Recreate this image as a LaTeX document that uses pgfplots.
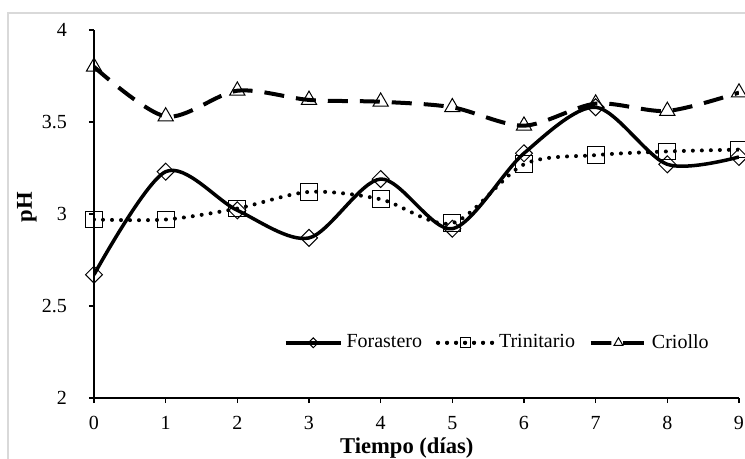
\documentclass[border=0pt]{standalone}
\usepackage{pgfplots}
\pgfplotsset{compat=1.18}
\usepackage{fontspec}
\setmainfont{Liberation Serif}
\begin{document}
\begin{tikzpicture}
\useasboundingbox (-47bp,-30.5bp) rectangle (325.5bp,199bp);
\fill[white] (-47bp,-30.5bp) rectangle (325.5bp,199bp);
\draw[color={rgb,255:red,217;green,217;blue,217}, line width=0.6bp] (-43bp,-31bp) -- (-43bp,192.5bp) -- (326bp,192.5bp);
\begin{axis}[
  at={(0,0)}, anchor=origin,
  scale only axis, width=322.5bp, height=184bp,
  xmin=0, xmax=9, ymin=2, ymax=4,
  axis lines=left, axis line style={-, line width=0.6bp},
  xtick={0,...,9}, ytick={2,2.5,3,3.5,4},
  yticklabels={2,2.5,3,3.5,4},
  tick style={line width=0.6bp, black},
  tick align=outside, major tick length=2.5bp,
  /pgf/number format/assume math mode=true,
  tick label style={font=\fontsize{10bp}{12bp}\selectfont},
  xticklabel style={yshift=-3bp},
  yticklabel style={xshift=-7.5bp},
  xlabel={\textbf{Tiempo (días)}},
  xlabel style={at={(axis description cs:0.485,0)}, anchor=base, yshift=-27.5bp, font=\fontsize{11.3bp}{13bp}\selectfont},
  ylabel={\textbf{pH}},
  ylabel style={at={(axis description cs:-0.1039,0.519)}, anchor=center, font=\fontsize{11.3bp}{13bp}\selectfont},
  legend columns=3,
  legend style={draw=none, fill=none, at={(0.969,0.15)}, anchor=east, font=\fontsize{10bp}{12bp}\selectfont,
    /tikz/every even column/.append style={column sep=5bp}},
  legend image code/.code={
    \draw[#1] (0bp,0bp) -- (13.75bp,0bp) -- (27.5bp,0bp);
    \draw[#1, mark repeat=2, mark phase=2, every mark/.append style={scale=0.58}] plot coordinates {(0bp,0bp) (13.75bp,0bp) (27.5bp,0bp)};
  },
]
\addplot[black, line width=1.75bp, smooth, tension=0.5, mark=square, mark size=3bp, mark options={solid, rotate=45, fill=white, line width=0.5bp}]
coordinates {(0,2.67) (1,3.23) (2,3.02) (3,2.87) (4,3.19) (5,2.92) (6,3.33) (7,3.58) (8,3.27) (9,3.31)};
\addlegendentry{Forastero}
\addplot[black, line width=2bp, line cap=round, dash pattern=on 0bp off 4.5bp, smooth, tension=0.5, mark=square, mark size=4.2bp, mark options={solid, fill=none, line width=0.5bp}]
coordinates {(0,2.97) (1,2.97) (2,3.03) (3,3.12) (4,3.08) (5,2.95) (6,3.27) (7,3.32) (8,3.34) (9,3.35)};
\addlegendentry{Trinitario}
\addplot[black, line width=2bp, dash pattern=on 10bp off 6bp, smooth, tension=0.5, mark=triangle, mark size=4.4bp, mark options={solid, fill=none, line width=0.5bp}]
coordinates {(0,3.80) (1,3.53) (2,3.67) (3,3.62) (4,3.61) (5,3.58) (6,3.48) (7,3.60) (8,3.56) (9,3.66)};
\addlegendentry{Criollo}
\end{axis}
\end{tikzpicture}
\end{document}
